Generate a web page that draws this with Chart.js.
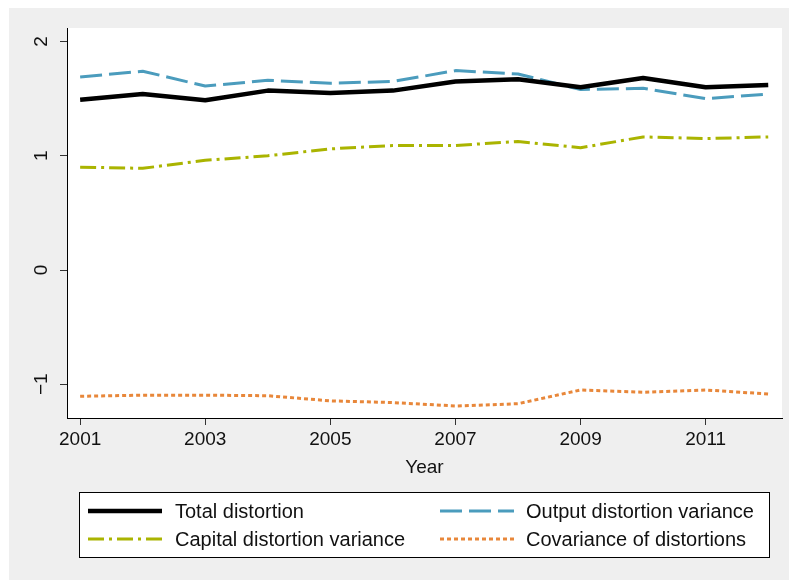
<!DOCTYPE html>
<html>
<head>
<meta charset="utf-8">
<script src="https://cdn.jsdelivr.net/npm/chart.js@4"></script>
<style>
  html, body { margin: 0; padding: 0; background: #fff; }
  #wrap { width: 789px; height: 581px; position: relative; }
</style>
</head>
<body>
<div id="wrap"><canvas id="chart"></canvas></div>
<script>
'use strict';

/* ---- data ---- */
const years = [2001, 2002, 2003, 2004, 2005, 2006, 2007, 2008, 2009, 2010, 2011, 2012];
const totalDistortion  = [1.49, 1.54, 1.485, 1.57, 1.55, 1.57, 1.65, 1.67, 1.60, 1.68, 1.60, 1.62];
const outputVariance   = [1.69, 1.74, 1.61, 1.66, 1.635, 1.65, 1.745, 1.715, 1.58, 1.59, 1.50, 1.54];
const capitalVariance  = [0.90, 0.89, 0.96, 1.00, 1.06, 1.09, 1.09, 1.125, 1.07, 1.165, 1.15, 1.165];
const covariance       = [-1.105, -1.095, -1.095, -1.10, -1.145, -1.16, -1.19, -1.17, -1.05, -1.07, -1.05, -1.085];

const seriesNames = ['Total distortion', 'Output distortion variance',
                     'Capital distortion variance', 'Covariance of distortions'];
const xTicks = [2001, 2003, 2005, 2007, 2009, 2011];
const yTicks = [-1, 0, 1, 2];

const FONT = "'Liberation Sans', Arial, sans-serif";
const INK  = '#111';

function pts(vals) {
  return years.map((y, i) => ({ x: y, y: vals[i] }));
}

/* gray outer frame + white plot region */
const frameBg = {
  id: 'frameBg',
  beforeDraw(chart) {
    const { ctx, chartArea: a } = chart;
    ctx.save();
    ctx.fillStyle = '#fff';
    ctx.fillRect(0, 0, chart.width, chart.height);
    ctx.fillStyle = '#efefef';
    ctx.fillRect(9, 8, chart.width - 9, chart.height - 9);
    ctx.fillStyle = '#fff';
    ctx.fillRect(a.left, a.top, a.right - a.left, a.bottom - a.top);
    ctx.restore();
  }
};

/* rotated y labels, x title and the boxed legend */
const extras = {
  id: 'extras',
  afterDraw(chart) {
    const { ctx, chartArea: a } = chart;
    const ys = chart.scales.y;
    ctx.save();
    ctx.fillStyle = INK;

    // y tick labels read bottom-to-top
    ctx.font = '19px ' + FONT;
    ctx.textAlign = 'center';
    ctx.textBaseline = 'middle';
    ys.ticks.forEach(t => {
      const py = ys.getPixelForValue(t.value);
      ctx.save();
      ctx.translate(42, py);
      ctx.rotate(-Math.PI / 2);
      ctx.fillText(t.value < 0 ? '\u2212' + Math.abs(t.value) : String(t.value), 0, 0);
      ctx.restore();
    });

    // x axis title
    ctx.fillText('Year', (a.left + a.right) / 2, 468);

    // legend box
    ctx.fillStyle = '#fff';
    ctx.fillRect(79, 492, 690, 65);
    ctx.strokeStyle = '#000';
    ctx.lineWidth = 1;
    ctx.strokeRect(79.5, 492.5, 690, 65);

    const colX  = [88, 440];
    const textX = [175, 526];
    const rowY  = [511, 539];
    ctx.font = '20px ' + FONT;
    ctx.textAlign = 'left';
    chart.data.datasets.forEach((ds, i) => {
      const c = i % 2, r = Math.floor(i / 2);
      ctx.save();
      ctx.strokeStyle = ds.borderColor;
      ctx.lineWidth = ds.borderWidth;
      ctx.setLineDash(ds.borderDash || []);
      ctx.beginPath();
      ctx.moveTo(colX[c], rowY[r]);
      ctx.lineTo(colX[c] + 74, rowY[r]);
      ctx.stroke();
      ctx.restore();
      ctx.fillStyle = INK;
      ctx.fillText(ds.label, textX[c], rowY[r] + 1);
    });
    ctx.restore();
  }
};

const lineBase = { pointRadius: 0, tension: 0, fill: false, borderCapStyle: 'butt', borderJoinStyle: 'round' };

new Chart(document.getElementById('chart'), {
  type: 'line',
  data: {
    datasets: [
      { ...lineBase, label: seriesNames[0], data: pts(totalDistortion),
        borderColor: '#000000', borderWidth: 4.5 },
      { ...lineBase, label: seriesNames[1], data: pts(outputVariance),
        borderColor: '#4b9cbd', borderWidth: 3, borderDash: [22, 7] },
      { ...lineBase, label: seriesNames[2], data: pts(capitalVariance),
        borderColor: '#aab400', borderWidth: 3, borderDash: [16, 5, 3, 5] },
      { ...lineBase, label: seriesNames[3], data: pts(covariance),
        borderColor: '#e8873a', borderWidth: 3, borderDash: [4, 3] }
    ]
  },
  options: {
    responsive: true,
    maintainAspectRatio: false,
    animation: false,
    layout: { padding: { top: 28, right: 7, bottom: 0, left: 0 } },
    plugins: { legend: { display: false }, tooltip: { enabled: false } },
    scales: {
      x: {
        type: 'linear',
        min: 2000.79,
        max: 2012.22,
        afterBuildTicks: s => { s.ticks = xTicks.map(v => ({ value: v })); },
        afterFit: s => { s.height = 163; },
        border: { display: true, color: '#000', width: 1 },
        grid: { drawOnChartArea: false, drawTicks: true, tickLength: 7, color: '#333' },
        ticks: {
          color: INK,
          font: { size: 19, family: FONT },
          padding: 3,
          maxRotation: 0,
          callback: v => String(v)
        }
      },
      y: {
        type: 'linear',
        min: -1.295,
        max: 2.118,
        afterBuildTicks: s => { s.ticks = yTicks.map(v => ({ value: v })); },
        afterFit: s => { s.width = 67; },
        border: { display: true, color: '#000', width: 1 },
        grid: { drawOnChartArea: false, drawTicks: true, tickLength: 7, color: '#333' },
        ticks: { display: false }
      }
    }
  },
  plugins: [frameBg, extras]
});
</script>
</body>
</html>
